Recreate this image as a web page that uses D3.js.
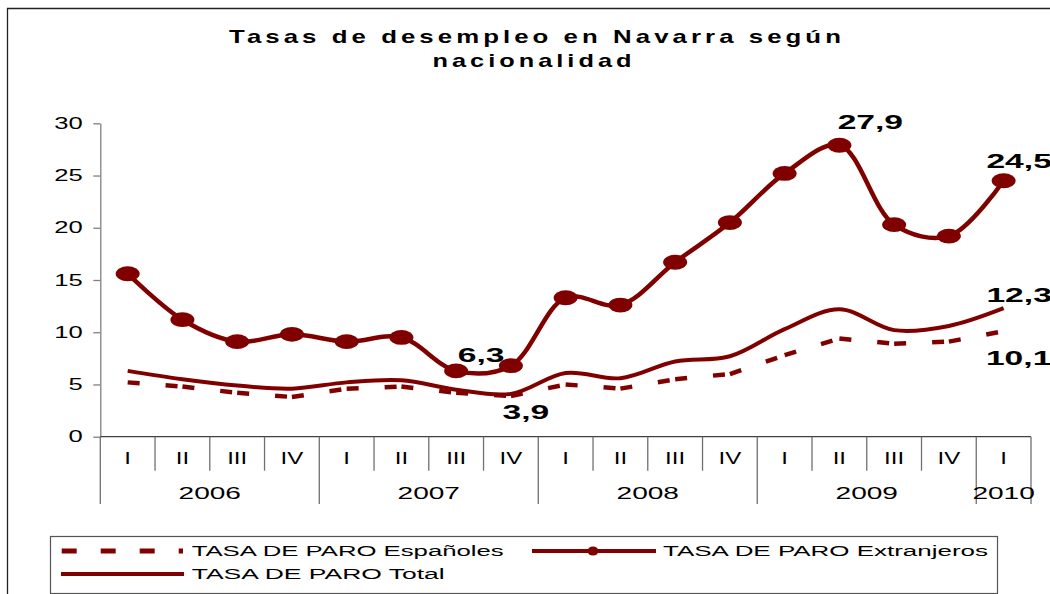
<!DOCTYPE html>
<html>
<head>
<meta charset="utf-8">
<script src="https://cdn.jsdelivr.net/npm/d3@7"></script>
<style>
  body { margin: 0; background: #fff; }
  svg { display: block; font-family: "Liberation Sans", Arial, sans-serif; }
</style>
</head>
<body>
<div id="chart"></div>
<script>
// x axis: quarters, grouped by year
var quarters = ['I','II','III','IV','I','II','III','IV','I','II','III','IV','I','II','III','IV','I'];
var years = ['2006','2007','2008','2009','2010'];
var yearQuarters = [4, 4, 4, 4, 1];
var yTicks = [0, 5, 10, 15, 20, 25, 30];

// series (%)
var espanoles = [5.2, 4.8, 4.2, 3.8, 4.6, 4.8, 4.2, 3.9, 5.0, 4.6, 5.5, 6.0, 7.8, 9.4, 8.9, 9.1, 10.1];
var extranjeros = [15.6, 11.2, 9.1, 9.8, 9.1, 9.5, 6.3, 6.8, 13.3, 12.6, 16.7, 20.5, 25.2, 27.9, 20.3, 19.2, 24.5];
var total = [6.3, 5.5, 4.9, 4.6, 5.2, 5.4, 4.5, 4.1, 6.1, 5.6, 7.2, 7.7, 10.3, 12.2, 10.2, 10.6, 12.3];

var seriesNames = ['TASA DE PARO Españoles', 'TASA DE PARO Extranjeros', 'TASA DE PARO Total'];
var titleLines = ['Tasas de desempleo en Navarra según', 'nacionalidad'];

// which points get a value label
var labelled = [
  {series: 'extranjeros', i: 6},
  {series: 'espanoles', i: 7},
  {series: 'extranjeros', i: 13},
  {series: 'extranjeros', i: 16},
  {series: 'total', i: 16},
  {series: 'espanoles', i: 16}
];

var W = 1050, H = 594;
var red = '#800000';

var svg = d3.select('#chart').append('svg')
  .attr('width', W)
  .attr('height', H);

// the text in the original is stretched sideways
var stretch = function(sel, k) {
  sel.each(function() {
    var len = this.getComputedTextLength();
    d3.select(this).attr('textLength', len * k).attr('lengthAdjust', 'spacingAndGlyphs');
  });
};

// frame (left and top edges only are visible)
svg.append('path')
  .attr('d', 'M7.5,' + H + 'V8.5H' + W)
  .attr('fill', 'none')
  .attr('stroke', '#222')
  .attr('stroke-width', 1.3);

// title
svg.selectAll('.title').data(titleLines).enter().append('text')
  .attr('class', 'title')
  .attr('x', function(d, i) { return i === 0 ? 537 : 534; })
  .attr('y', function(d, i) { return 43 + i * 24; })
  .attr('text-anchor', 'middle')
  .attr('font-size', 19)
  .attr('font-weight', 'bold')
  .attr('letter-spacing', 3)
  .attr('textLength', function(d, i) { return i === 0 ? 616 : 203; })
  .attr('lengthAdjust', 'spacingAndGlyphs')
  .text(function(d) { return d; });

var x = d3.scaleBand().domain(d3.range(quarters.length)).range([100.3, 1031]);
var y = d3.scaleLinear().domain([0, 30]).range([436.7, 123.3]);
var cx = function(d, i) { return x(i) + x.bandwidth() / 2; };

// y axis
var yAxis = svg.append('g')
  .attr('transform', 'translate(' + x.range()[0] + ',0)')
  .call(d3.axisLeft(y).tickValues(yTicks).tickSize(7).tickSizeOuter(0).tickPadding(10.5));
yAxis.select('.domain').attr('stroke', '#808080').attr('stroke-width', 1.3);
yAxis.selectAll('.tick line').attr('stroke', '#808080').attr('stroke-width', 1.3);
yAxis.selectAll('.tick text')
  .attr('font-size', 16)
  .attr('font-family', '"Liberation Sans", Arial, sans-serif')
  .attr('fill', '#000')
  .call(stretch, 1.6);

// x axis line
svg.append('line')
  .attr('x1', x.range()[0]).attr('x2', x.range()[1])
  .attr('y1', y(0)).attr('y2', y(0))
  .attr('stroke', '#404040')
  .attr('stroke-width', 1.3);

// separators between quarters, longer ones between years
var yearEdges = [0].concat(Array.from(d3.cumsum(yearQuarters)));
var edges = d3.range(quarters.length + 1);
svg.selectAll('.sep').data(edges).enter().append('line')
  .attr('class', 'sep')
  .attr('x1', function(d) { return x.range()[0] + d * x.step(); })
  .attr('x2', function(d) { return x.range()[0] + d * x.step(); })
  .attr('y1', y(0))
  .attr('y2', function(d) { return yearEdges.indexOf(d) >= 0 ? 504 : 470.7; })
  .attr('stroke', '#707070')
  .attr('stroke-width', 1.3);

// quarter labels
svg.selectAll('.q').data(quarters).enter().append('text')
  .attr('class', 'q')
  .attr('x', cx)
  .attr('y', 463.8)
  .attr('text-anchor', 'middle')
  .attr('font-size', 16)
  .text(function(d) { return d; })
  .call(stretch, 1.5);

// year labels, centred under their quarters
svg.selectAll('.yr').data(years).enter().append('text')
  .attr('class', 'yr')
  .attr('x', function(d, i) {
    var a = x.range()[0] + yearEdges[i] * x.step();
    var b = x.range()[0] + yearEdges[i + 1] * x.step();
    return (a + b) / 2;
  })
  .attr('y', 499)
  .attr('text-anchor', 'middle')
  .attr('font-size', 17)
  .text(function(d) { return d; })
  .call(stretch, 1.65);

// lines
var smooth = d3.line()
  .x(cx)
  .y(function(d) { return y(d); })
  .curve(d3.curveCatmullRom);

svg.append('path')
  .datum(total)
  .attr('d', smooth)
  .attr('fill', 'none')
  .attr('stroke', red)
  .attr('stroke-width', 4);

// dashed line: dash pattern restarts at every point, like the original
var pairs = d3.range(espanoles.length - 1);
svg.selectAll('.esp').data(pairs).enter().append('line')
  .attr('class', 'esp')
  .attr('x1', function(i) { return cx(null, i); })
  .attr('y1', function(i) { return y(espanoles[i]); })
  .attr('x2', function(i) { return cx(null, i + 1); })
  .attr('y2', function(i) { return y(espanoles[i + 1]); })
  .attr('stroke', red)
  .attr('stroke-width', 4.5)
  .attr('stroke-dasharray', '12,26');

svg.append('path')
  .datum(extranjeros)
  .attr('d', smooth)
  .attr('fill', 'none')
  .attr('stroke', red)
  .attr('stroke-width', 4.5);

svg.selectAll('.mk').data(extranjeros).enter().append('ellipse')
  .attr('class', 'mk')
  .attr('cx', cx)
  .attr('cy', function(d) { return y(d); })
  .attr('rx', 12)
  .attr('ry', 7.4)
  .attr('fill', red);

// value labels
var bySeries = {espanoles: espanoles, extranjeros: extranjeros, total: total};
var offsets = {
  'extranjeros6': [25, -8.5],
  'espanoles7': [15, 23.5],
  'extranjeros13': [31, -16.5],
  'extranjeros16': [15.5, -12.5],
  'total16': [15.5, -6.5],
  'espanoles16': [15, 33.5]
};
var fmt = function(v) { return d3.format('.1f')(v).replace('.', ','); };
svg.selectAll('.val').data(labelled).enter().append('text')
  .attr('class', 'val')
  .attr('x', function(d) { return cx(null, d.i) + offsets[d.series + d.i][0]; })
  .attr('y', function(d) { return y(bySeries[d.series][d.i]) + offsets[d.series + d.i][1]; })
  .attr('text-anchor', 'middle')
  .attr('font-size', 21)
  .attr('font-weight', 'bold')
  .text(function(d) { return fmt(bySeries[d.series][d.i]); })
  .call(stretch, 1.6);

// legend
var legend = svg.append('g');
legend.append('rect')
  .attr('x', 50.5).attr('y', 536.5)
  .attr('width', 947).attr('height', 57)
  .attr('fill', '#fff')
  .attr('stroke', '#555')
  .attr('stroke-width', 1.2);

// Españoles
legend.append('line')
  .attr('x1', 61.7).attr('x2', 183).attr('y1', 551).attr('y2', 551)
  .attr('stroke', red).attr('stroke-width', 5).attr('stroke-dasharray', '15,24');
// Extranjeros
legend.append('line')
  .attr('x1', 532).attr('x2', 656).attr('y1', 551).attr('y2', 551)
  .attr('stroke', red).attr('stroke-width', 4);
legend.append('ellipse')
  .attr('cx', 593).attr('cy', 551).attr('rx', 5.5).attr('ry', 4.5)
  .attr('fill', red);
// Total
legend.append('line')
  .attr('x1', 61).attr('x2', 184).attr('y1', 574).attr('y2', 574)
  .attr('stroke', red).attr('stroke-width', 4);

var legendText = [
  {x: 191.7, y: 556, w: 312},
  {x: 663, y: 556, w: 325},
  {x: 191.7, y: 578.5, w: 253}
];
legend.selectAll('.lt').data(seriesNames).enter().append('text')
  .attr('class', 'lt')
  .attr('x', function(d, i) { return legendText[i].x; })
  .attr('y', function(d, i) { return legendText[i].y; })
  .attr('font-size', 14)
  .attr('textLength', function(d, i) { return legendText[i].w; })
  .attr('lengthAdjust', 'spacingAndGlyphs')
  .text(function(d) { return d; });
</script>
</body>
</html>
